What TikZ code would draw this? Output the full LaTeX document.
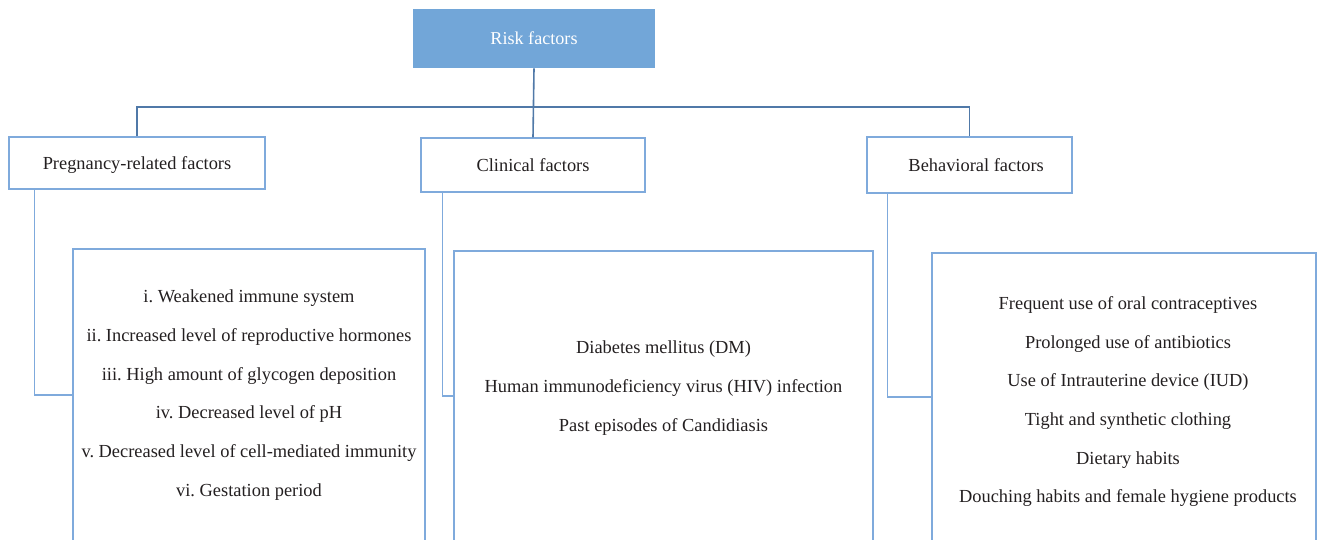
\documentclass[tikz,border=0pt]{standalone}
\usepackage{fontspec}
\setmainfont{Liberation Serif}
\frenchspacing
\definecolor{rootblue}{HTML}{72A6D8}
\definecolor{boxblue}{HTML}{7FAADC}
\definecolor{linkblue}{HTML}{5079A8}
\definecolor{txtgray}{HTML}{231F20}
\begin{document}
\begin{tikzpicture}[x=0.75pt,y=-0.75pt,
    rootbox/.style={fill=rootblue,text=white,inner sep=0pt,minimum width=181.5pt,minimum height=44.25pt,font=\fontsize{13.6}{15}\selectfont},
    catbox/.style={draw=boxblue,line width=1.1pt,text=txtgray,inner sep=0pt,text depth=0pt,font=\fontsize{13.8}{15}\selectfont},
    listbox/.style={draw=boxblue,line width=1.1pt,text=txtgray,inner sep=0pt,align=center,font=\fontsize{13.8}{29}\selectfont},
    link/.style={draw=linkblue,line width=1.2pt},
    sublink/.style={draw=boxblue,line width=1.1pt}]
    \useasboundingbox (0,0) rectangle (1317,539);
    % top of the tree
    \node[rootbox] (risk) at (534,38.5) {Risk factors};
    \node[catbox,minimum width=192pt,minimum height=39pt] (preg) at (137,163) {Pregnancy-related factors};
    \node[catbox,minimum width=168pt,minimum height=40.5pt] (clin) at (533,165) {Clinical factors};
    \node[catbox,minimum width=153.75pt,minimum height=42pt] (behav) at (969.5,165) {\hspace*{10pt}Behavioral factors};
    \coordinate (bus) at (534,107);
    \draw[link] (preg.north) |- (bus) -| (behav.north);
    \draw[link] (risk.south) -- (clin.north);
    % lists, cut off at the bottom
    \node[listbox,minimum width=264pt,minimum height=219pt] (pregl) at (249,395) {i. Weakened immune system\\
        ii. Increased level of reproductive hormones\\
        iii. High amount of glycogen deposition\\
        iv. Decreased level of pH\\
        v. Decreased level of cell-mediated immunity\\
        vi. Gestation period};
    \node[listbox,minimum width=314.25pt,minimum height=217.5pt] (clinl) at (663.5,396) {Diabetes mellitus (DM)\\
        Human immunodeficiency virus (HIV) infection\\
        Past episodes of Candidiasis\\[-14pt]\mbox{}};
    \node[listbox,minimum width=288pt,minimum height=216pt] (behavl) at (1124,397) {\hspace*{6pt}Frequent use of oral contraceptives\\
        \hspace*{6pt}Prolonged use of antibiotics\\
        \hspace*{6pt}Use of Intrauterine device (IUD)\\
        \hspace*{6pt}Tight and synthetic clothing\\
        \hspace*{6pt}Dietary habits\\
        \hspace*{6pt}Douching habits and female hygiene products\\[-33pt]\mbox{}};
    \draw[sublink] ([xshift=19.5pt]preg.south west) |- (pregl.west);
    \draw[sublink] ([xshift=16.5pt]clin.south west) |- (clinl.west);
    \draw[sublink] ([xshift=15.75pt]behav.south west) |- (behavl.west);
\end{tikzpicture}
\end{document}
